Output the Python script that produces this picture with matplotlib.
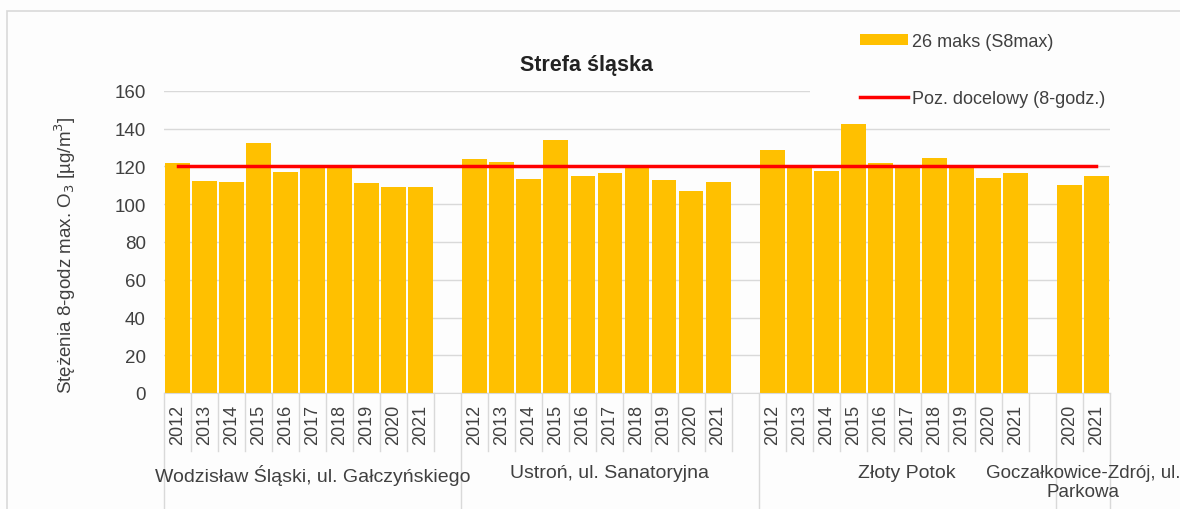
import matplotlib.pyplot as plt
from matplotlib.patches import Rectangle, Patch
from matplotlib.lines import Line2D

plt.rcParams['font.family'] = ['Liberation Sans', 'DejaVu Sans']

# data
stations = ['Wodzisław Śląski, ul. Gałczyńskiego', 'Ustroń, ul. Sanatoryjna',
            'Złoty Potok', 'Goczałkowice-Zdrój, ul.\nParkowa']
years_full = ['2012', '2013', '2014', '2015', '2016', '2017', '2018', '2019', '2020', '2021']
years_short = ['2020', '2021']
wodzislaw = [122, 112.5, 112, 132.5, 117, 120, 120, 111.3, 109, 109]
ustron = [124, 122.4, 113.3, 134.3, 115.2, 116.8, 120.5, 112.6, 107, 111.9]
zloty_potok = [128.5, 120, 117.5, 142.4, 122, 120, 124.4, 120, 114, 116.5]
goczalkowice = [110.3, 115]
target = 120

groups = [(stations[0], years_full, wodzislaw),
          (stations[1], years_full, ustron),
          (stations[2], years_full, zloty_potok),
          (stations[3], years_short, goczalkowice)]

txt = '#404040'
grid = '#d9d9d9'

fig = plt.figure(figsize=(11.8, 5.1), dpi=100)
fig.patch.set_facecolor('#fdfdfd')
ax = fig.add_axes([164/1180, 1 - 394/510, (1110 - 164)/1180, (394 - 92)/510])
ax.set_facecolor('none')

xs, vals, labels, bounds = [], [], [], [0]
pos = 0
for i, (name, yrs, v) in enumerate(groups):
    for y, val in zip(yrs, v):
        xs.append(pos)
        vals.append(val)
        labels.append(y)
        pos += 1
    if i < len(groups) - 1:
        pos += 1  # blank category between stations
    bounds.append(pos)

ax.bar(xs, vals, width=0.92, color='#FFC000', zorder=2)
ax.plot([0, pos - 1], [target, target], color='#FF0000', lw=2.5, zorder=3)

ax.set_xlim(-0.5, pos - 0.5)
ax.set_ylim(0, 160)
ax.set_yticks(range(0, 161, 20))
ax.yaxis.grid(True, color=grid, lw=1, zorder=0)
ax.tick_params(axis='y', length=0, labelsize=13.5, colors=txt, pad=13)
ax.set_xticks([])
for s in ['top', 'right', 'left']:
    ax.spines[s].set_visible(False)
ax.spines['bottom'].set_color(grid)

tr = ax.get_xaxis_transform()
# category separators
for k in range(pos + 1):
    xk = k - 0.5
    bottom = -0.385 if k in bounds else -0.192
    ax.plot([xk, xk], [0, bottom], color=grid, lw=1, transform=tr, clip_on=False)
for x, lab in zip(xs, labels):
    ax.text(x, -0.035, lab, rotation=90, ha='center', va='top', fontsize=13,
            color=txt, transform=tr)
for i, (name, yrs, v) in enumerate(groups):
    c = (bounds[i] + bounds[i + 1]) / 2 - 0.5
    fs = 13.5 if i == len(groups) - 1 else 14
    ax.text(c, -0.235, name, ha='center', va='top', fontsize=fs, color=txt,
            transform=tr, linespacing=1.15)

ax.set_ylabel('Stężenia 8-godz max. O$_3$ [µg/m$^3$]', fontsize=13.5, color=txt)
ax.yaxis.set_label_coords(78/1180, 0.5, transform=fig.transFigure)

fig.text(586/1180, 1 - 65/510, 'Strefa śląska', ha='center', va='center',
         fontsize=15.5, fontweight='bold', color='#222222')

# legend area covers the top gridline on the right
fig.patches.append(Rectangle((810/1180, 1 - 118/510), 1, 100/510, transform=fig.transFigure,
                             facecolor='#fdfdfd', edgecolor='none', zorder=2))
handles = [Patch(facecolor='#FFC000', edgecolor='none'),
           Line2D([], [], color='#FF0000', lw=2.5)]
fig.legend(handles, ['26 maks (S8max)', 'Poz. docelowy (8-godz.)'],
           loc='upper left', bbox_to_anchor=(860/1180, 1 - 34/510), frameon=False,
           fontsize=13, labelcolor=txt, labelspacing=2.2, handlelength=2.65,
           handletextpad=0.25, handleheight=0.6, borderpad=0, borderaxespad=0)

# outer chart border
fig.patches.append(Rectangle((7/1180, -0.1), 1.2, 1 - 12/510 + 0.1, transform=fig.transFigure,
                             facecolor='none', edgecolor=grid, lw=1.2, zorder=5))

fig.savefig('out.png', dpi=100)
